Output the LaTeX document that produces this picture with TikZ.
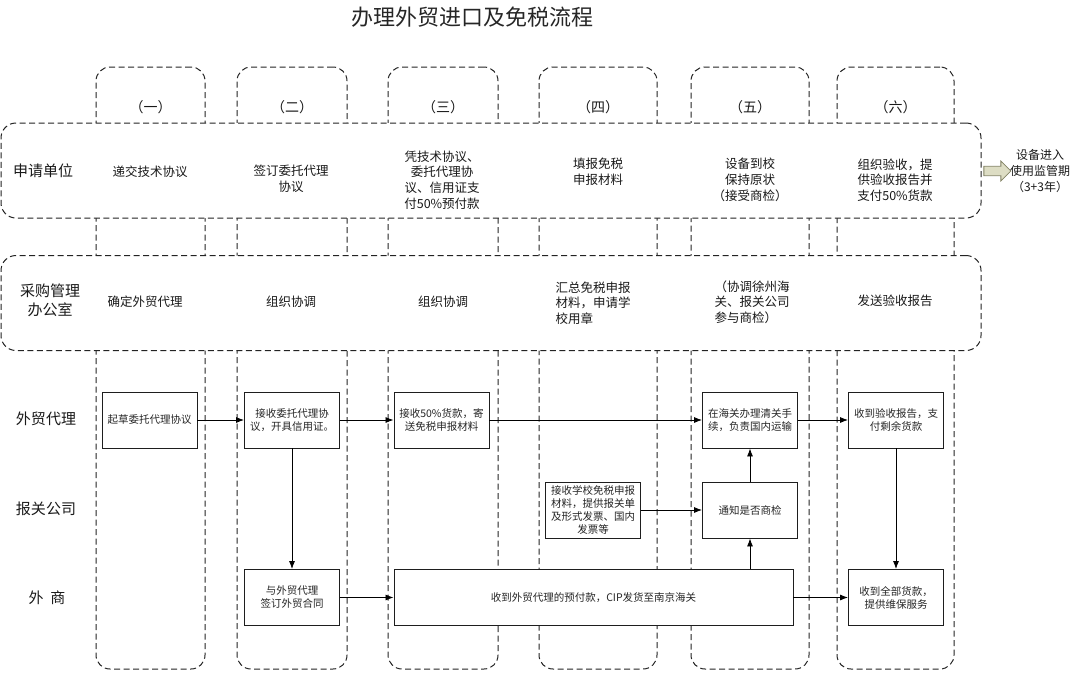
\documentclass[tikz,border=0pt]{standalone}
\usepackage{fontspec}
\setmainfont{Noto Sans CJK SC}
\usetikzlibrary{shapes.arrows,arrows.meta}
\definecolor{laneline}{RGB}{35,35,35}
\definecolor{boxline}{RGB}{30,30,30}
\definecolor{arrowfill}{RGB}{221,221,196}
\definecolor{arrowline}{RGB}{130,130,100}

\begin{document}
\begin{tikzpicture}[x=1pt, y=-1pt,
  stage/.style={draw=laneline, dash pattern=on 6pt off 3.5pt, line width=1pt, rounded corners=14pt, minimum height=602pt},
  lane/.style={draw=laneline, fill=white, dash pattern=on 6pt off 3.5pt, line width=1pt, rounded corners=15pt, minimum width=980pt, minimum height=95pt},
  task/.style={draw=boxline, fill=white, line width=0.9pt, minimum width=95pt, minimum height=56pt, inner sep=1pt, align=center, font=\fontsize{10.5}{13}\selectfont, text=black!85},
  step text/.style={align=center, font=\fontsize{12.5}{15.7}\selectfont, text=black!90},
  role/.style={align=center, font=\fontsize{15}{19}\selectfont, text=black!90},
  arrow/.style={->, >={Latex[length=8pt,width=6pt]}, line width=0.8pt},
]
\useasboundingbox (0,0) rectangle (1075,672);

% Title
\node[font=\fontsize{22}{26}\selectfont, text=black!85] (title) at (472,17) {办理外贸进口及免税流程};

% Stage columns
\node[stage, minimum width=109pt] (c1) at (150.5,368) {};
\node[stage, minimum width=110pt] (c2) at (292,368) {};
\node[stage, minimum width=110pt] (c3) at (443,368) {};
\node[stage, minimum width=118pt] (c4) at (598,368) {};
\node[stage, minimum width=118pt] (c5) at (750,368) {};
\node[stage, minimum width=117pt] (c6) at (895.5,368) {};

\node[step text, font=\fontsize{14}{16}\selectfont] (h1) at (150.5,107) {（一）};
\node[step text, font=\fontsize{14}{16}\selectfont] (h2) at (292,107) {（二）};
\node[step text, font=\fontsize{14}{16}\selectfont] (h3) at (443,107) {（三）};
\node[step text, font=\fontsize{14}{16}\selectfont] (h4) at (598,107) {（四）};
\node[step text, font=\fontsize{14}{16}\selectfont] (h5) at (750,107) {（五）};
\node[step text, font=\fontsize{14}{16}\selectfont] (h6) at (895.5,107) {（六）};

% Lanes
\node[lane] (applicant) at (491,170.5) {};
\node[lane] (purchase) at (491,303) {};

\node[role] (applicantlbl) at (43,171) {申请单位};
\node[role] (purchaselbl) at (50,300) {采购管理\\办公室};
\node[role] (agentlbl) at (46,419) {外贸代理};
\node[role] (brokerlbl) at (46,509) {报关公司};
\node[role] (vendorlbl) at (47,598) {外\ \ 商};

% Level 1: applicant
\node[step text] (a1) at (150,172) {递交技术协议};
\node[step text] (a2) at (291,179) {签订委托代理\\协议};
\node[step text] (a3) at (442,180) {凭技术协议、\\委托代理协\\议、信用证支\\付50\%预付款};
\node[step text] (a4) at (598,172) {填报免税\\申报材料};
\node[step text] (a5) at (750,180) {设备到校\\保持原状\\（接受商检）};
\node[step text] (a6) at (895,180) {组织验收，提\\供验收报告并\\支付50\%货款};

% Level 2: purchase office
\node[step text] (p1) at (145,302) {确定外贸代理};
\node[step text] (p2) at (291,302) {组织协调};
\node[step text] (p3) at (443,302) {组织协调};
\node[step text, align=left] (p4) at (593,303) {汇总免税申报\\材料，申请学\\校用章};
\node[step text, align=left] (p5) at (752,302) {（协调徐州海\\关、报关公司\\参与商检）};
\node[step text] (p6) at (895,301) {发送验收报告};

% Hand over
\node[single arrow, draw=arrowline, fill=arrowfill, line width=0.8pt, minimum height=27pt, minimum width=20pt, single arrow head extend=5pt, inner xsep=0pt, inner ysep=4pt] (handover) at (995,171) {};
\node[step text, font=\fontsize{12}{16}\selectfont] (period) at (1040,171) {设备进入\\使用监管期\\（3+3年）};

% Tasks
\node[task] (draft) at (149.5,420) {起草委托代理协议};
\node[task] (accept) at (292,420) {接收委托代理协\\议，开具信用证。};
\node[task] (payment) at (441.5,420) {接收50\%货款，寄\\送免税申报材料};
\node[task] (contract) at (292,597.5) {与外贸代理\\签订外贸合同};
\node[task, minimum width=399pt] (ship) at (593.5,597.5) {收到外贸代理的预付款，CIP发货至南京海关};
\node[task] (declare) at (593,510) {接收学校免税申报\\材料，提供报关单\\及形式发票、国内\\发票等};
\node[task] (inspect) at (750,510) {通知是否商检};
\node[task] (clear) at (750,420) {在海关办理清关手\\续，负责国内运输};
\node[task] (settle) at (896,420) {收到验收报告，支\\付剩余货款};
\node[task] (service) at (896,597.5) {收到全部货款，\\提供维保服务};

\draw[arrow] (draft) -- (accept);
\draw[arrow] (accept) -- (payment);
\draw[arrow] (payment) -- (clear);
\draw[arrow] (clear) -- (settle);
\draw[arrow] (accept) -- (contract);
\draw[arrow] (contract) -- (ship);
\draw[arrow] (declare) -- (inspect);
\draw[arrow] (inspect) -- (clear);
\draw[arrow] (ship.north -| inspect.south) -- (inspect.south);
\draw[arrow] (ship) -- (service);
\draw[arrow] (settle) -- (service);
\end{tikzpicture}
\end{document}
